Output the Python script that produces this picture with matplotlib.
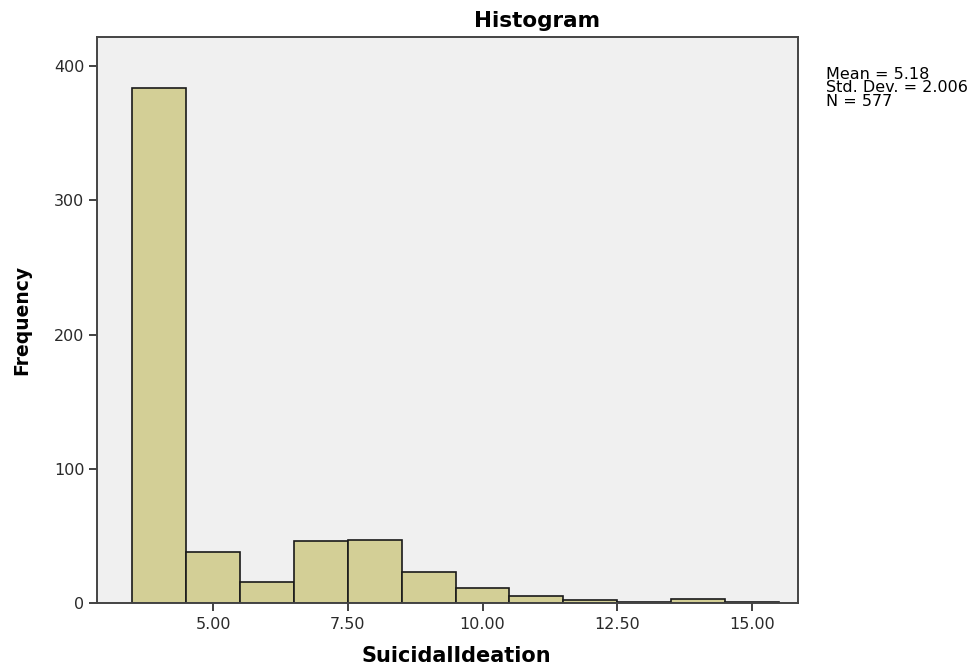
import matplotlib
matplotlib.use("Agg")
import matplotlib.pyplot as plt
from matplotlib.ticker import FormatStrFormatter

# bin edges / counts
bin_left = [3.5, 4.5, 5.5, 6.5, 7.5, 8.5, 9.5, 10.5, 11.5, 12.5, 13.5, 14.5]
counts = [384, 38, 16, 46, 47, 23, 11, 5, 2, 1, 3, 1]
x_ticks = [5.0, 7.5, 10.0, 12.5, 15.0]
y_ticks = [0, 100, 200, 300, 400]
stats_text = "Mean = 5.18\nStd. Dev. = 2.006\nN = 577"

# the SPSS output looks horizontally stretched, DejaVu's wide glyphs get close
plt.rcParams['font.family'] = ['DejaVu Sans']

fig = plt.figure(figsize=(9.76, 6.66), dpi=100)
ax = fig.add_axes([0.0994, 0.0946, 0.7182, 0.8498])
ax.set_facecolor("#f0f0f0")

ax.bar(bin_left, counts, width=1.0, align="edge", color="#d3cf96",
       edgecolor="#1a1a1a", linewidth=1.2)

ax.set_xlim(2.848, 15.853)
ax.set_ylim(0, 421.6)
ax.set_xticks(x_ticks)
ax.set_yticks(y_ticks)
ax.xaxis.set_major_formatter(FormatStrFormatter("%.2f"))
ax.tick_params(direction="out", length=6, width=1.3, color="#333333",
               labelsize=11.5, labelcolor="#2a2a2a")
ax.tick_params(axis="x", pad=4)
ax.tick_params(axis="y", pad=3)

for s in ax.spines.values():
    s.set_color("#444444")
    s.set_linewidth(1.4)

ax.set_xlabel("SuicidalIdeation", fontsize=15, fontweight="bold", va="baseline")
ax.xaxis.set_label_coords(0.512, -0.1042)
ax.set_ylabel("Frequency", fontsize=13.5, fontweight="bold", va="center")
ax.yaxis.set_label_coords(-0.107, 0.5)

fig.text(537 / 976, 1 - 27 / 666, "Histogram", ha="center", va="baseline",
         fontsize=15.5, fontweight="bold")
fig.text(0.846, 0.9, stats_text, ha="left", va="top", fontsize=11.5,
         linespacing=0.9)

fig.savefig("out.png", dpi=100, facecolor="white")
